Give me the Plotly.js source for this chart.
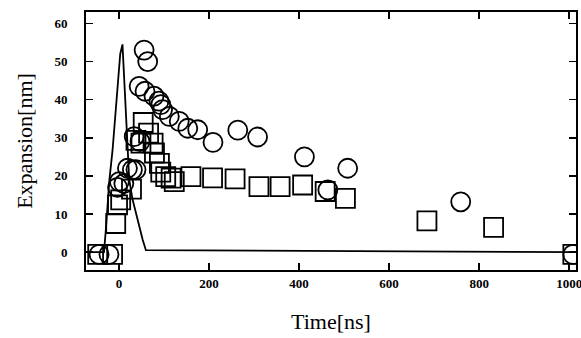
<!DOCTYPE html>
<html>
<head>
<meta charset="utf-8">
<script src="https://cdn.plot.ly/plotly-3.0.1.min.js"></script>
<style>html,body{margin:0;padding:0;background:#fff;}#chart{width:581px;height:338px;}</style>
</head>
<body>
<div id="chart"></div>
<script>
// Pulse (line)
const pulseT = [-73, -33, -29, -21, -14, -5, 3, 8, 12, 16, 23, 30, 38, 46, 53, 60, 1015];
const pulseV = [0, 0, 5.8, 19, 26.8, 40, 52, 54.5, 45, 32, 19, 14, 10.2, 6, 3.2, 0.5, 0];

// Circles
const circT = [-44, -22, -3, 1, 11, 19, 30, 38, 34, 47, 45, 56, 58, 64, 78, 89, 93, 97, 112, 134, 153, 175, 209, 264, 308, 412, 464, 508, 759, 1008];
const circV = [-0.6, -0.6, 17, 18.5, 18, 22, 21.6, 21.6, 30.3, 29, 43.5, 53, 42.2, 50, 40.9, 39.6, 38.7, 37.4, 35.6, 34.3, 32.5, 32.1, 28.8, 32, 30.2, 25, 16.3, 22, 13.2, -0.6];

// Squares
const sqT = [-47, -14, -7, -3, 4, 28, 38, 49, 54, 66, 76, 79, 90, 93, 104, 116, 123, 160, 208, 258, 311, 358, 408, 458, 503, 684, 832, 1008];
const sqV = [-0.6, -0.6, 7.5, 12.4, 13.7, 16.5, 29.3, 28.6, 34, 31.2, 28.6, 26, 23.3, 21, 19.8, 19.4, 18.5, 19.8, 19.5, 19.2, 17.2, 17.2, 17.6, 15.9, 14.1, 8.2, 6.5, -0.6];

const xTicks = [0, 200, 400, 600, 800, 1000];
const yTicks = [0, 10, 20, 30, 40, 50, 60];

const serif = 'Liberation Serif, Times New Roman, serif';

const traces = [
  {x: pulseT, y: pulseV, mode: 'lines', line: {color: '#000', width: 1.8}, hoverinfo: 'skip'},
  {x: sqT, y: sqV, mode: 'markers', marker: {symbol: 'square-open', size: 19, color: '#000', line: {width: 1.8, color: '#000'}}},
  {x: circT, y: circV, mode: 'markers', marker: {symbol: 'circle-open', size: 19, color: '#000', line: {width: 1.8, color: '#000'}}}
];

const layout = {
  width: 581, height: 338,
  margin: {l: 86, r: 5, t: 12, b: 68},
  paper_bgcolor: '#fff', plot_bgcolor: '#fff',
  showlegend: false,
  font: {family: serif, color: '#000', size: 12},
  xaxis: {
    range: [-73, 1015], tickvals: xTicks, ticktext: xTicks.map(String),
    ticks: 'inside', ticklen: 7, tickwidth: 1.5, tickcolor: '#000',
    showline: true, linecolor: '#000', linewidth: 2, mirror: 'ticks',
    showgrid: false, zeroline: false, ticklabeloverflow: 'allow',
    tickfont: {family: serif, size: 13, color: '#000', weight: 'bold'},
    title: {text: 'Time[ns]', font: {family: serif, size: 22, color: '#000'}, standoff: 24}
  },
  yaxis: {
    range: [-4.7, 63], tickvals: yTicks, ticktext: yTicks.map(String),
    ticks: 'inside', ticklen: 7, tickwidth: 1.5, tickcolor: '#000',
    showline: true, linecolor: '#000', linewidth: 2, mirror: 'ticks',
    showgrid: false, zeroline: false,
    tickfont: {family: serif, size: 13, color: '#000', weight: 'bold'}, ticklabelstandoff: 14,
    title: {text: 'Expansion[nm]', font: {family: serif, size: 22, color: '#000'}, standoff: 16}
  }
};

Plotly.newPlot('chart', traces, layout, {staticPlot: true, displayModeBar: false});
</script>
</body>
</html>
